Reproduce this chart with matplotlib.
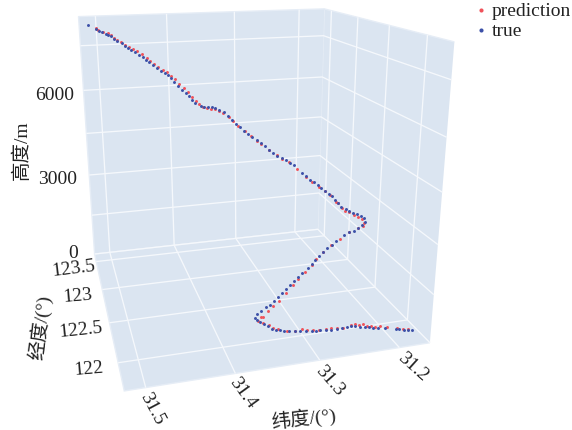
import matplotlib
matplotlib.use('Agg')
import matplotlib.pyplot as plt

true_lat = [31.5167,31.5070,31.5030,31.4987,31.4941,31.4906,31.4873,
    31.4841,31.4809,31.4748,31.4709,31.4676,31.4641,31.4585,
    31.4545,31.4504,31.4473,31.4433,31.4390,31.4346,31.4306,
    31.4258,31.4222,31.4203,31.4180,31.4145,31.4107,31.4067,
    31.4044,31.4021,31.3990,31.3923,31.3868,31.3803,31.3737,
    31.3685,31.3629,31.3571,31.3533,31.3496,31.3462,31.3415,
    31.3382,31.3342,31.3296,31.3252,31.3209,31.3166,31.3121,
    31.3082,31.3040,31.2982,31.2930,31.2884,31.2835,31.2768,
    31.2730,31.2685,31.2641,31.2598,31.2568,31.2526,31.2483,
    31.2456,31.2439,31.2413,31.2392,31.2331,31.2289,31.2236,
    31.2183,31.2123,31.2087,31.2104,31.2153,31.2208,31.2260,
    31.2302,31.2362,31.2470,31.2533,31.2592,31.2654,31.2716,
    31.2771,31.2830,31.2887,31.2963,31.3020,31.3081,31.3133,
    31.3192,31.3246,31.3300,31.3357,31.3416,31.3463,31.3523,
    31.3572,31.3605,31.3603,31.3572,31.3537,31.3498,31.3467,
    31.3432,31.3389,31.3334,31.3275,31.3205,31.3146,31.3065,
    31.2990,31.2945,31.2879,31.2812,31.2737,31.2651,31.2584,
    31.2511,31.2449,31.2390,31.2338,31.2274,31.2217,31.2174,
    31.2109,31.2017,31.1881,31.1838,31.1780,31.1722,31.1674]
true_lon = [123.201,123.221,123.216,123.228,123.252,123.263,123.259,
    123.231,123.222,123.212,123.199,123.162,123.168,123.173,
    123.132,123.124,123.087,123.079,123.055,123.043,123.008,
    123.011,122.993,122.950,122.895,122.853,122.812,122.794,
    122.757,122.711,122.695,122.694,122.716,122.748,122.799,
    122.819,122.819,122.818,122.787,122.748,122.711,122.693,
    122.657,122.640,122.622,122.597,122.580,122.563,122.536,
    122.514,122.497,122.495,122.493,122.483,122.475,122.415,
    122.393,122.375,122.361,122.352,122.331,122.316,122.301,
    122.283,122.258,122.234,122.209,122.205,122.198,122.200,
    122.204,122.205,122.193,122.162,122.150,122.150,122.150,
    122.167,122.174,122.168,122.164,122.160,122.145,122.136,
    122.126,122.107,122.098,122.091,122.082,122.066,122.057,
    122.049,122.036,122.029,122.017,122.007,122.017,122.015,
    122.008,121.993,121.967,121.949,121.927,121.904,121.873,
    121.864,121.854,121.853,121.849,121.854,121.850,121.854,
    121.854,121.852,121.863,121.861,121.866,121.878,121.882,
    121.896,121.908,121.911,121.899,121.901,121.901,121.886,
    121.888,121.887,121.878,121.871,121.866,121.865,121.862]
true_alt = [8400,8270,8200,8150,8090,8050,8000,
    7930,7880,7800,7730,7670,7620,7540,
    7470,7400,7330,7270,7190,7120,7050,
    6980,6910,6850,6770,6680,6590,6510,
    6450,6370,6300,6210,6150,6090,6030,
    5980,5910,5830,5740,5660,5570,5480,
    5400,5320,5240,5150,5080,5000,4910,
    4820,4750,4670,4600,4530,4450,4270,
    4200,4110,4040,3960,3900,3820,3740,
    3680,3610,3540,3460,3380,3320,3250,
    3190,3120,3050,3000,2940,2860,2780,
    2710,2630,2480,2390,2300,2220,2130,
    2050,1970,1880,1770,1690,1600,1520,
    1430,1360,1270,1190,1100,1020,930,
    860,800,790,770,750,730,700,
    680,670,640,620,590,570,540,
    510,490,470,450,420,390,370,
    340,320,300,280,260,240,220,
    190,160,110,90,70,50,30]

pred_lat = [31.5100,31.5070,31.5018,31.4943,31.4901,31.4866,31.4830,
    31.4789,31.4736,31.4684,31.4640,31.4592,31.4533,31.4481,
    31.4450,31.4407,31.4356,31.4289,31.4245,31.4210,31.4174,
    31.4140,31.4093,31.4051,31.4024,31.3993,31.3962,31.3919,
    31.3864,31.3800,31.3731,31.3671,31.3611,31.3552,31.3511,
    31.3465,31.3399,31.3336,31.3275,31.3224,31.3138,31.3059,
    31.3005,31.2897,31.2817,31.2741,31.2675,31.2597,31.2534,
    31.2484,31.2449,31.2409,31.2388,31.2358,31.2297,31.2238,
    31.2182,31.2137,31.2129,31.2163,31.2220,31.2303,31.2433,
    31.2541,31.2655,31.2765,31.2834,31.2932,31.3041,31.3110,
    31.3217,31.3313,31.3398,31.3461,31.3530,31.3554,31.3591,
    31.3546,31.3484,31.3454,31.3405,31.3309,31.3207,31.3111,
    31.3055,31.2981,31.2893,31.2806,31.2728,31.2651,31.2573,
    31.2443,31.2377,31.2324,31.2273,31.2234,31.2180,31.2137,
    31.2057,31.1979,31.1854,31.1773,31.1710]
pred_lon = [123.017,123.014,123.013,123.093,123.103,123.081,123.074,
    123.054,123.059,123.067,123.075,123.068,123.057,123.019,
    122.985,122.963,122.953,122.967,122.948,122.913,122.884,
    122.828,122.787,122.757,122.700,122.673,122.640,122.624,
    122.646,122.685,122.726,122.744,122.744,122.721,122.685,
    122.646,122.608,122.586,122.557,122.540,122.507,122.478,
    122.459,122.471,122.431,122.372,122.345,122.323,122.305,
    122.282,122.227,122.233,122.196,122.183,122.187,122.181,
    122.178,122.175,122.147,122.127,122.135,122.167,122.159,
    122.160,122.145,122.121,122.101,122.077,122.056,122.035,
    122.010,121.989,121.982,121.967,121.953,121.966,121.952,
    121.925,121.906,121.876,121.868,121.845,121.846,121.866,
    121.857,121.854,121.861,121.869,121.883,121.887,121.888,
    121.920,121.932,121.927,121.933,121.917,121.913,121.901,
    121.915,121.902,121.891,121.882,121.881]
pred_alt = [8400,8350,8270,8190,8130,8050,8000,
    7930,7850,7780,7710,7640,7550,7440,
    7370,7290,7210,7110,7040,6960,6870,
    6770,6670,6580,6470,6390,6310,6230,
    6170,6110,6040,5970,5890,5790,5690,
    5580,5440,5320,5190,5100,4940,4800,
    4700,4560,4400,4210,4070,3940,3830,
    3720,3580,3530,3430,3370,3300,3210,
    3130,3070,3000,2950,2870,2730,2550,
    2390,2240,2080,1970,1830,1670,1560,
    1400,1240,1120,1010,900,860,800,
    770,740,720,690,650,610,570,
    550,520,480,450,420,390,360,
    320,300,280,260,240,220,200,
    170,140,90,50,30]

lat_ticks = [31.2, 31.3, 31.4, 31.5]
lon_ticks = [122, 122.5, 123, 123.5]
alt_ticks = [0, 1500, 3000, 4500, 6000, 7500]

SERIF = ['Liberation Serif', 'Noto Sans CJK SC']
PANE = '#dbe5f1'

fig = plt.figure(figsize=(5.72, 4.31), dpi=100)
ax = fig.add_subplot(projection='3d', computed_zorder=False)
ax.set_position([-2.83 / 572, 18.39 / 431, 475.18 / 572, 475.18 / 431])

ax.set_xlim(31.523, 31.16)
ax.set_ylim(121.7, 123.65)
ax.set_zlim(0, 8450)
ax.view_init(17.4652, -105.3370, 0.2179)
ax.set_proj_type('persp', focal_length=0.2915)
ax.set_box_aspect((1.0167, 1.0395, 1))

ax.set_xticks(lat_ticks)
ax.set_yticks(lon_ticks)
ax.set_zticks(alt_ticks)
ax.set_xticklabels([])
ax.set_yticklabels([])
ax.set_zticklabels([])

# White grid on flat panes, no axis lines or tick marks
for axis in (ax.xaxis, ax.yaxis, ax.zaxis):
    axis.set_pane_color(PANE)
    axis.pane.set_edgecolor('#e6edf6')
    axis.line.set_color((1, 1, 1, 0))
    axis._axinfo['grid'].update(color='#f5f8fc', linewidth=0.95)
    axis._axinfo['tick'].update(inward_factor=0, outward_factor=0)

sc_pred = ax.scatter(pred_lat, pred_lon, pred_alt, s=4.5, color='#f0525a', linewidths=0,
                     depthshade=False, label='prediction', zorder=3)
sc_true = ax.scatter(true_lat, true_lon, true_alt, s=4.5, color='#3c50a8', linewidths=0,
                     depthshade=False, label='true', zorder=4)


def label(px, py, text, rot=0, size=14):
    fig.text(px / 572, 1 - py / 431, text, family=SERIF, fontsize=size, color='#222222',
             ha='center', va='center', rotation=rot, rotation_mode='anchor')


# Tick labels
label(55, 96, '6000')
label(58, 180, '3000')
label(73, 254, '0')
label(73, 269, '123.5', 7)
label(78, 296, '123', 5)
label(81, 330, '122.5', 6)
label(89, 369, '122', 5)
label(152, 409, '31.5', -62)
label(243, 393, '31.4', -54)
label(330, 381, '31.3', -49)
label(413, 367, '31.2', -42)

# Axis titles
label(22, 150, '高度/m', 90)
label(40, 327, '经度/(°)', 83)
label(304, 418, '纬度/(°)', 6)

fig.legend(handles=[sc_pred, sc_true], loc='upper left', bbox_to_anchor=(471 / 572, 1 - 2 / 431),
           frameon=False, prop={'family': SERIF, 'size': 14}, labelcolor='#222222', scatterpoints=1, markerscale=1.4,
           borderpad=0, borderaxespad=0, handlelength=1, handletextpad=0.05, labelspacing=0.15)

fig.savefig('out.png', dpi=100)
